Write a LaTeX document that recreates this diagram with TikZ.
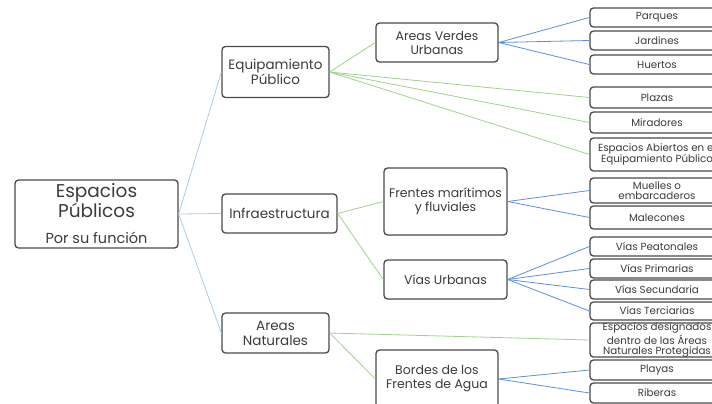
\documentclass[tikz,border=0pt]{standalone}
\usepackage{fontspec}
\setmainfont{Poppins}
\definecolor{boxline}{HTML}{4A4A4A}
\definecolor{txt}{HTML}{3C3C3C}
\definecolor{lblue}{HTML}{A6CDF0}
\definecolor{lgreen}{HTML}{9FD38C}
\definecolor{mblue}{HTML}{5C8FDD}
\tikzset{
  box/.style={draw=boxline, line width=1.3pt, rounded corners=3.5pt, fill=white, align=center, inner sep=0pt, text=txt},
  lvlone/.style={box, font=\fontsize{13.5}{15}\selectfont},
  lvltwo/.style={box, font=\fontsize{12.5}{14}\selectfont},
  leaf/.style={box, minimum width=134pt, font=\fontsize{10.3}{11}\selectfont},
  tightleaf/.style={leaf, font=\fontsize{10.3}{10.2}\selectfont},
  rootline/.style={draw=lblue, line width=0.8pt},
  gline/.style={draw=lgreen, line width=0.8pt},
  bline/.style={draw=mblue, line width=0.8pt}
}
\begin{document}
\begin{tikzpicture}[x=1pt,y=-1pt]
\useasboundingbox (0,0) rectangle (712,404);
\clip (0,0) rectangle (712,404);
% root
\node[box, minimum width=163pt, minimum height=68pt] (root) at (96.5,214) {};
\node[text=txt, font=\fontsize{18.5}{20}\selectfont, align=center] (roott) at (96.5,201) {Espacios\\Públicos};
\node[text=txt, font=\fontsize{14.5}{16}\selectfont] (roots) at (96.5,238) {Por su función};
% level 1
\node[lvlone, minimum width=107pt, minimum height=51pt] (eq) at (275.5,72) {Equipamiento\\Público};
\node[lvlone, minimum width=115pt, minimum height=39pt] (inf) at (279.5,213.5) {Infraestructura};
\node[lvlone, minimum width=107pt, minimum height=40pt] (nat) at (275.5,333) {Areas\\Naturales};
% level 2
\node[lvltwo, minimum width=122pt, minimum height=39pt] (verdes) at (437,42.5) {Areas Verdes\\Urbanas};
\node[lvltwo, minimum width=123pt, minimum height=67pt] (frentes) at (445.5,201.5) {Frentes marítimos\\y fluviales};
\node[lvltwo, minimum width=123pt, minimum height=39pt] (vias) at (445.5,279.5) {Vías Urbanas};
\node[lvltwo, minimum width=122pt, minimum height=58pt] (bordes) at (437,379) {Bordes de los\\Frentes de Agua};
% leaves
\node[leaf, minimum height=19pt] (parques) at (657,17.5) {Parques};
\node[leaf, minimum height=19pt] (jardines) at (657,40.5) {Jardines};
\node[leaf, minimum height=19pt] (huertos) at (657,64.5) {Huertos};
\node[leaf, minimum height=21pt] (plazas) at (657,97.5) {Plazas};
\node[leaf, minimum height=21pt] (miradores) at (657,122.5) {Miradores};
\node[tightleaf, minimum height=33pt] (abiertos) at (657,154.5) {Espacios Abiertos en el\\Equipamiento Público};
\node[tightleaf, minimum height=25pt] (muelles) at (657,190.5) {Muelles o\\embarcaderos};
\node[leaf, minimum height=23pt] (malecones) at (657,217.5) {Malecones};
\node[leaf, minimum height=19pt] (peatonales) at (657,246.5) {Vías Peatonales};
\node[leaf, minimum height=19pt] (primarias) at (657,268.5) {Vías Primarias};
\node[leaf, minimum height=19pt] (secundaria) at (657,289.5) {Vías Secundaria};
\node[leaf, minimum height=18pt] (terciarias) at (657,311) {Vías Terciarias};
\node[tightleaf, minimum height=32pt] (designados) at (657,340) {Espacios designados\\dentro de las  Áreas\\Naturales Protegidas};
\node[leaf, minimum height=20pt] (playas) at (657,370) {Playas};
\node[leaf, minimum height=20pt] (riberas) at (657,393) {Riberas};
% connectors
\draw[rootline] (root.east) -- (eq.west);
\draw[rootline] (root.east) -- (inf.west);
\draw[rootline] (root.east) -- (nat.west);
\draw[gline] (eq.east) -- (verdes.west);
\draw[gline] (eq.east) -- (plazas.west);
\draw[gline] (eq.east) -- (miradores.west);
\draw[gline] (eq.east) -- (abiertos.west);
\draw[gline] (inf.east) -- (frentes.west);
\draw[gline] (inf.east) -- (vias.west);
\draw[gline] (nat.east) -- (designados.west);
\draw[gline] (nat.east) -- (bordes.west);
\draw[bline] (verdes.east) -- (parques.west);
\draw[bline] (verdes.east) -- (jardines.west);
\draw[bline] (verdes.east) -- (huertos.west);
\draw[bline] (frentes.east) -- (muelles.west);
\draw[bline] (frentes.east) -- (malecones.west);
\draw[bline] (vias.east) -- (peatonales.west);
\draw[bline] (vias.east) -- (primarias.west);
\draw[bline] (vias.east) -- (secundaria.west);
\draw[bline] (vias.east) -- (terciarias.west);
\draw[bline] (bordes.east) -- (playas.west);
\draw[bline] (bordes.east) -- (riberas.west);
\end{tikzpicture}
\end{document}
